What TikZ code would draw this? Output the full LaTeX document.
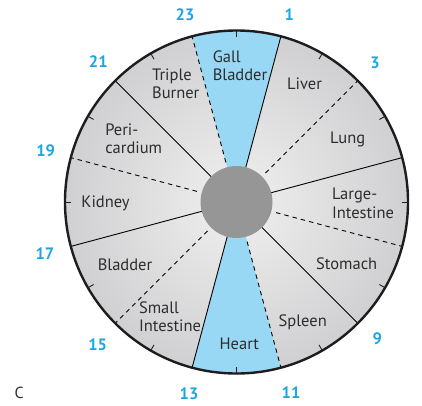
\documentclass[tikz,border=0pt]{standalone}
\usepackage{fontspec}
\setmainfont{PT Sans}
\begin{document}
\definecolor{rimgray}{RGB}{208,208,210}
\definecolor{midgray}{RGB}{240,240,240}
\definecolor{hubgray}{RGB}{150,150,151}
\definecolor{skyblue}{RGB}{152,216,245}
\definecolor{numcyan}{RGB}{27,166,226}
\definecolor{txtgray}{RGB}{45,45,45}
\definecolor{rimline}{RGB}{30,28,30}
\begin{tikzpicture}[x=1pt,y=1pt,
  organ/.style={font=\fontsize{16.5}{18.3}\selectfont, text=txtgray, align=left, inner sep=0pt},
  hour/.style={font=\fontsize{16.5}{18}\selectfont\bfseries, text=numcyan, inner sep=0pt},
  solidsep/.style={line width=0.9pt, draw=black},
  dashsep/.style={line width=0.9pt, draw=black, dash pattern=on 4.5pt off 4pt},
  ticksep/.style={line width=0.9pt, draw=rimline}]
\useasboundingbox (-236.5pt,-203pt) rectangle (185.5pt,202pt);
% background disc
\shade[inner color=midgray, outer color=rimgray] (0,0) circle (171.5pt);
% blue sectors
\fill[skyblue] (0,0) -- (75:171.5pt) arc (75:105:171.5pt) -- cycle;
\fill[skyblue] (0,0) -- (255:171.5pt) arc (255:285:171.5pt) -- cycle;
% solid separators
\foreach \h in {1,5,9,13,17,21}{
  \draw[solidsep] ({90-15*\h}:35pt) -- ({90-15*\h}:171.5pt);
}
% dashed separators
\foreach \h in {3,7,11,15,19,23}{
  \draw[dashsep] ({90-15*\h}:41pt) -- ({90-15*\h}:171.5pt);
}
% ticks
\foreach \h in {0,2,...,22}{
  \draw[ticksep] ({90-15*\h}:165pt) -- ({90-15*\h}:171.5pt);
}
% rim and hub
\draw[line width=2.4pt, draw=rimline] (0,0) circle (171.5pt);
\fill[hubgray] (0,0) circle (36pt);
% organ labels
\node[organ] (gall) at (3.5pt,136.3pt) {Gall\\Bladder};
\node[organ] (liver) at (68pt,118.7pt) {Liver};
\node[organ] (lung) at (111.2pt,62.7pt) {Lung};
\node[organ] (large) at (126.5pt,-1.3pt) {Large-\\Intestine};
\node[organ] (stomach) at (110.2pt,-61.3pt) {Stomach};
\node[organ] (spleen) at (66.2pt,-120.3pt) {Spleen};
\node[organ] (heart) at (2.8pt,-141.7pt) {Heart};
\node[organ] (small) at (-66.5pt,-114.7pt) {Small\\Intestine};
\node[organ] (bladder) at (-111.5pt,-63pt) {Bladder};
\node[organ] (kidney) at (-131pt,-1.3pt) {Kidney};
\node[organ] (peri) at (-102.8pt,63.3pt) {Peri-\\cardium};
\node[organ] (triple) at (-60.8pt,118.2pt) {Triple\\Burner};
% hour numbers
\node[hour] (h1) at (52.8pt,187pt) {1};
\node[hour] (h3) at (138.5pt,138.7pt) {3};
\node[hour] (h9) at (140.8pt,-137pt) {9};
\node[hour] (h11) at (54.5pt,-190.7pt) {11};
\node[hour] (h13) at (-47.5pt,-191.3pt) {13};
\node[hour] (h15) at (-138.8pt,-142.3pt) {15};
\node[hour] (h17) at (-191.5pt,-51.3pt) {17};
\node[hour] (h19) at (-190.8pt,51pt) {19};
\node[hour] (h21) at (-138.2pt,140.3pt) {21};
\node[hour] (h23) at (-51.5pt,187pt) {23};
% panel letter
\node[font=\fontsize{16}{18}\selectfont, text=txtgray, inner sep=0pt] (panel) at (-217.2pt,-190.7pt) {C};
\end{tikzpicture}
\end{document}
